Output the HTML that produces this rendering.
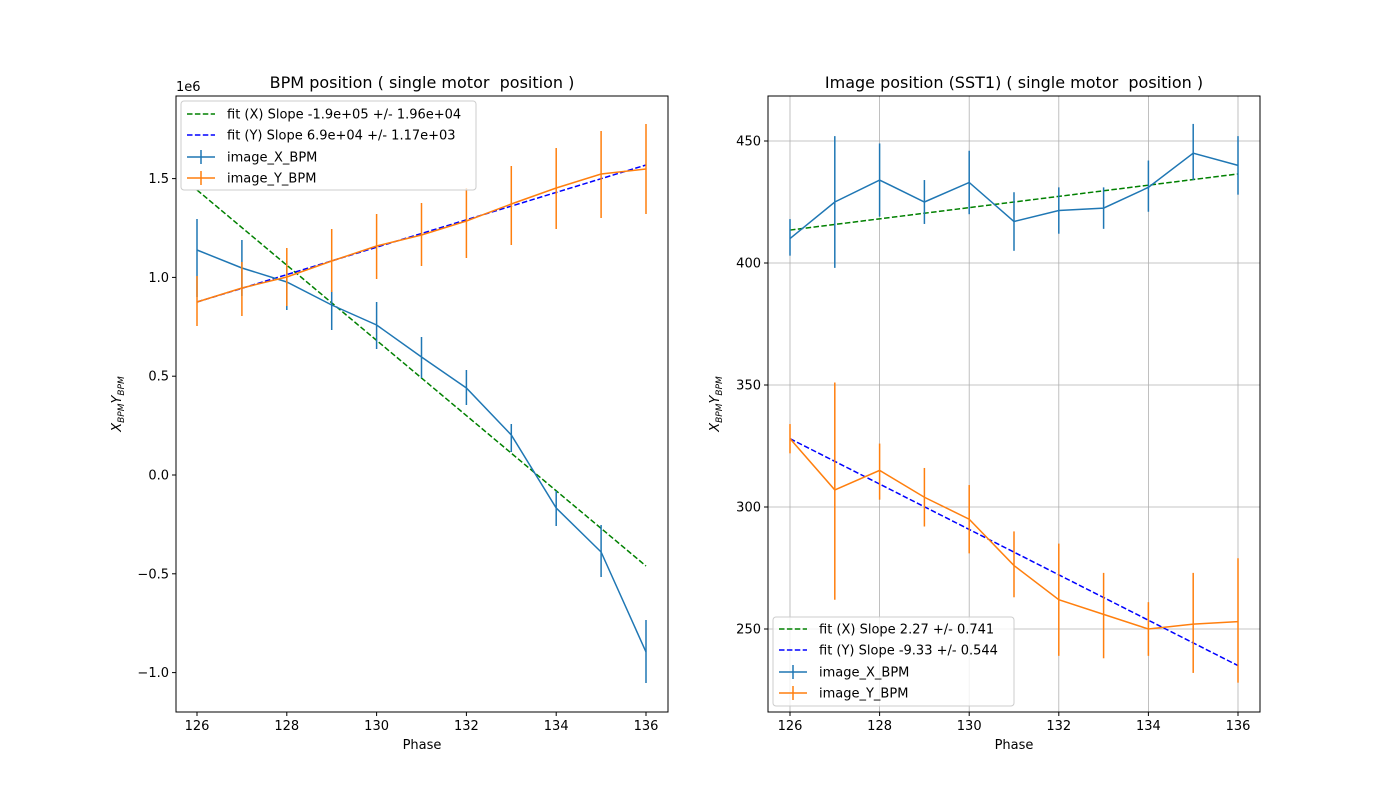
<!DOCTYPE html><html><head><style>body{margin:0;background:#fff}svg text{font-family:"DejaVu Sans","Liberation Sans",sans-serif;fill:#000}</style></head><body>
<svg id="s" width="1400" height="800" xmlns="http://www.w3.org/2000/svg" font-size="13"></svg>
<script>
const s=document.getElementById('s');let h='';
const B='#1f77b4',O='#ff7f0e';
function line(pts,c,d){h+=`<polyline points="${pts.map(p=>p.join(',')).join(' ')}" fill="none" stroke="${c}" stroke-width="1.5" ${d?'stroke-dasharray="5.5,2.4"':''}/>`;}
function seg(x1,y1,x2,y2,c,w){h+=`<line x1="${x1}" y1="${y1}" x2="${x2}" y2="${y2}" stroke="${c}" stroke-width="${w||1.5}"/>`;}
function txt(x,y,t,a,extra){h+=`<text x="${x}" y="${y}" text-anchor="${a||'middle'}" ${extra||''}>${t}</text>`;}
const L=176,R=668,T=96,Bo=712;
const lx=i=>197+44.9*i;
const ly=v=>475-197.6*v;
for(let i=0;i<6;i++){const v=126+2*i,x=197+44.9*2*i;seg(x,Bo,x,Bo+4,'#000',1);txt(x,Bo+18,v);}
[1.5,1.0,0.5,0.0,-0.5,-1.0].forEach(v=>{const y=ly(v);seg(L-4,y,L,y,'#000',1);txt(L-7,y+4.5,(v<0?'\u2212':'')+Math.abs(v).toFixed(1),'end');});
txt(L,91,'1e6','start');
txt(422,749,'Phase');
txt(422,88,'BPM position ( single motor&#160; position )','middle','font-size="16"');
h+=`<text transform="translate(121,404) rotate(-90)" text-anchor="middle" font-style="italic">X<tspan font-size="9" dy="3">BPM</tspan><tspan dy="-3">Y</tspan><tspan font-size="9" dy="3">BPM</tspan></text>`;
line([[197,190],[646,566]],'green',1);line([[197,302],[646,165]],'blue',1);
const xa=[250,268,282,305,325,357,388,435,508,552,652],xe=[[219,297],[240,296],[261,310],[290,330],[302,349],[337,378],[370,405],[424,452],[491,526],[525,577],[620,683]];
const ya=[302,288,277,261,246,235,221,204,188,174,169],ye=[[276,326],[262,316],[248,306],[229,292],[214,279],[203,266],[188,258],[166,245],[148,229],[131,218],[124,214]];
xe.forEach((e,i)=>seg(lx(i),e[0],lx(i),e[1],B));line(xa.map((y,i)=>[lx(i),y]),B);
ye.forEach((e,i)=>seg(lx(i),e[0],lx(i),e[1],O));line(ya.map((y,i)=>[lx(i),y]),O);
h+=`<rect x="${L}" y="${T}" width="${R-L}" height="${Bo-T}" fill="none" stroke="#000" stroke-width="1"/>`;
h+=`<rect x="181" y="101" width="295" height="89" rx="3" fill="#fff" fill-opacity="0.8" stroke="#ccc"/>`;
function leg(x,y,c,t,type){if(type=='d')line([[x,y],[x+28,y]],c,1);else{seg(x,y,x+28,y,c);seg(x+14,y-7,x+14,y+7,c);}txt(x+40,y+4.5,t,'start');}
leg(187,114,'green','fit (X) Slope -1.9e+05 +/- 1.96e+04','d');
leg(187,135,'blue','fit (Y) Slope 6.9e+04 +/- 1.17e+03','d');
leg(187,157,B,'image_X_BPM');leg(187,178,O,'image_Y_BPM');
const L2=768,R2=1260;
const rx=i=>790+44.8*i, ry=v=>1239-2.44*v;
for(let i=0;i<6;i++){const x=790+44.8*2*i;seg(x,T,x,Bo,'#b0b0b0',0.8);seg(x,Bo,x,Bo+4,'#000',1);txt(x,Bo+18,126+2*i);}
[250,300,350,400,450].forEach(v=>{const y=ry(v);seg(L2,y,R2,y,'#b0b0b0',0.8);seg(L2-4,y,L2,y,'#000',1);txt(L2-7,y+4.5,v,'end');});
txt(1014,749,'Phase');
txt(1014,88,'Image position (SST1) ( single motor&#160; position )','middle','font-size="16"');
h+=`<text transform="translate(719,404) rotate(-90)" text-anchor="middle" font-style="italic">X<tspan font-size="9" dy="3">BPM</tspan><tspan dy="-3">Y</tspan><tspan font-size="9" dy="3">BPM</tspan></text>`;
line([[rx(0),ry(413.5)],[rx(10),ry(436.5)]],'green',1);line([[rx(0),ry(328)],[rx(10),ry(235)]],'blue',1);
const X2=[410,425,434,425,433,417,421.5,422.5,431,445,440],X2e=[[403,418],[398,452],[419,449],[416,434],[420,446],[405,429],[412,431],[414,431],[421,442],[434,457],[428,452]];
const Y2=[328,307,315,304,295,276,262,256,250,252,253],Y2e=[[322,334],[262,351],[303,326],[292,316],[281,309],[263,290],[239,285],[238,273],[239,261],[232,273],[228,279]];
X2e.forEach((e,i)=>seg(rx(i),ry(e[0]),rx(i),ry(e[1]),B));line(X2.map((v,i)=>[rx(i),ry(v)]),B);
Y2e.forEach((e,i)=>seg(rx(i),ry(e[0]),rx(i),ry(e[1]),O));line(Y2.map((v,i)=>[rx(i),ry(v)]),O);
h+=`<rect x="${L2}" y="${T}" width="${R2-L2}" height="${Bo-T}" fill="none" stroke="#000" stroke-width="1"/>`;
h+=`<rect x="773" y="617" width="241" height="89" rx="3" fill="#fff" fill-opacity="0.8" stroke="#ccc"/>`;
leg(779,629,'green','fit (X) Slope 2.27 +/- 0.741','d');
leg(779,650,'blue','fit (Y) Slope -9.33 +/- 0.544','d');
leg(779,672,B,'image_X_BPM');leg(779,693,O,'image_Y_BPM');
s.innerHTML=h;
</script></body></html>
